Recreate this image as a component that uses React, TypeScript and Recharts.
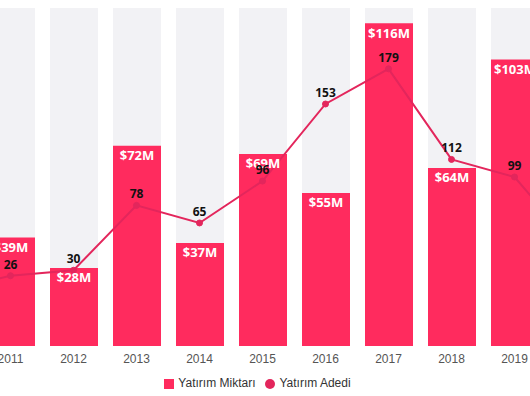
import React from 'react';
import { ComposedChart, Bar, Line, XAxis, YAxis, Legend, LabelList } from 'recharts';

const years = ['2010', '2011', '2012', '2013', '2014', '2015', '2016', '2017', '2018', '2019', '2020'];
// Yatırım Miktarı (milyon $)
const amounts = [30, 39, 28, 72, 37, 69, 55, 116, 64, 103, 60];
// Yatırım Adedi
const counts = [15, 26, 30, 78, 65, 96, 153, 179, 112, 99, 45];

const data = years.map((year, i) => ({ year, amount: amounts[i], count: counts[i] }));

const BAR = '#ff2b5e';
const LINE = '#e3265c';

const App: React.FC = () => {
  return (
    <div style={{ position: 'absolute', left: 0, top: 0, width: 530, height: 396, overflow: 'hidden', background: '#fff' }}>
      <div style={{ position: 'absolute', left: -84, top: 0 }}>
        <ComposedChart width={693} height={396} data={data} margin={{ top: 8, right: 0, left: 0, bottom: 6 }}>
          <XAxis
            dataKey="year"
            axisLine={false}
            tickLine={false}
            height={30}
            tick={{ fill: '#555', fontSize: 12, fontFamily: 'Liberation Sans, Arial, sans-serif' }}
          />
          <YAxis yAxisId="amt" hide domain={[0, 121.5]} />
          <YAxis yAxisId="cnt" hide domain={[-26, 224]} orientation="right" />
          <Legend
            verticalAlign="bottom"
            iconSize={10}
            itemSorter="dataKey"
            wrapperStyle={{ fontSize: 12, fontFamily: 'Liberation Sans, Arial, sans-serif', color: '#333' }}
            formatter={(value) => <span style={{ color: '#333' }}>{value}</span>}
          />
          <Bar
            yAxisId="amt"
            dataKey="amount"
            name="Yatırım Miktarı"
            fill={BAR}
            barSize={48}
            legendType="square"
            background={{ fill: '#f2f2f5' }}
            isAnimationActive={false}
          >
            <LabelList
              dataKey="amount"
              position="insideTop"
              formatter={(v: any) => `$${v}M`}
              style={{ fill: '#fff', fontSize: 13, fontWeight: 700, fontFamily: 'Open Sans, sans-serif' }}
            />
          </Bar>
          <Line
            yAxisId="cnt"
            dataKey="count"
            name="Yatırım Adedi"
            stroke={LINE}
            strokeWidth={2}
            dot={{ r: 3, fill: LINE, stroke: LINE, strokeWidth: 1 }}
            legendType="circle"
            isAnimationActive={false}
          >
            <LabelList
              dataKey="count"
              position="top"
              offset={7}
              style={{ fill: '#111', fontSize: 12, fontWeight: 700, fontFamily: 'Open Sans, sans-serif' }}
            />
          </Line>
        </ComposedChart>
      </div>
    </div>
  );
};

export default App;
